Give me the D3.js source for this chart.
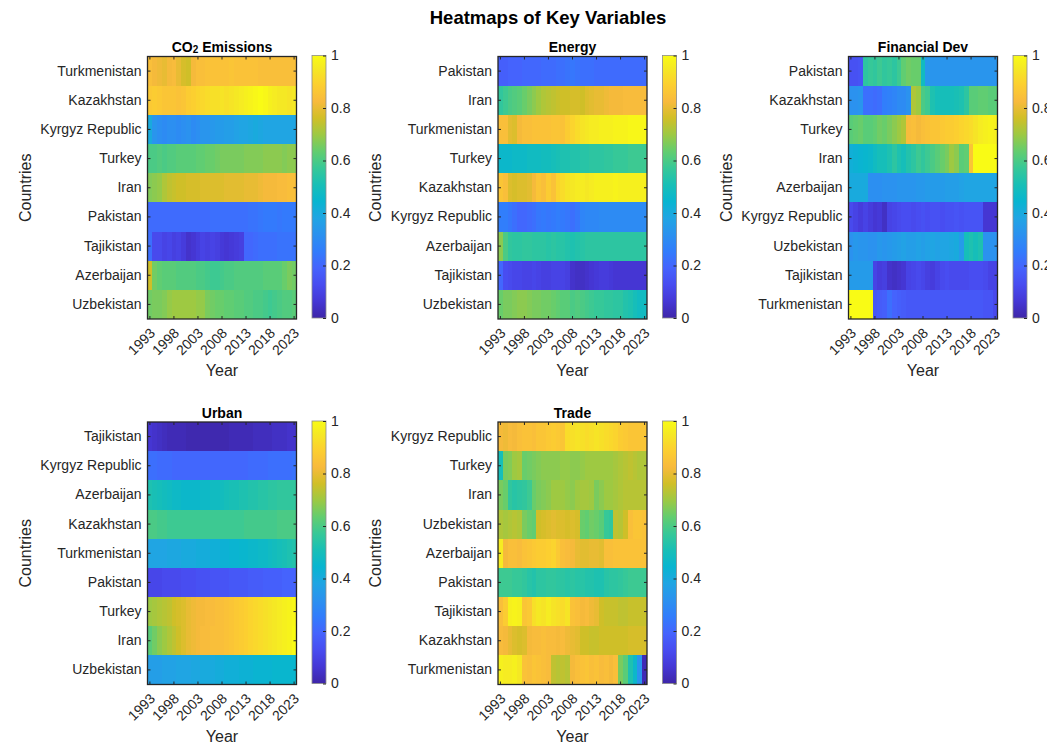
<!DOCTYPE html>
<html>
<head>
<meta charset="utf-8">
<script src="https://cdn.jsdelivr.net/npm/d3@7"></script>
<style>
  body { margin: 0; background: #fff; }
  svg { display: block; }
  text { font-family: "Liberation Sans", Arial, Helvetica, sans-serif; }
</style>
</head>
<body>
<svg id="fig" width="1047" height="750"></svg>
<script>
// ---- Data (normalised 0..1) ----
const years = [1993,1994,1995,1996,1997,1998,1999,2000,2001,2002,2003,2004,2005,2006,2007,2008,
               2009,2010,2011,2012,2013,2014,2015,2016,2017,2018,2019,2020,2021,2022,2023];
const yearTicks = [1993, 1998, 2003, 2008, 2013, 2018, 2023];
const colorbarTicks = [0, 0.2, 0.4, 0.6, 0.8, 1];

// parula colour map stops
const parulaStops = [0, 4/63, 8/63, 12/63, 16/63, 20/63, 24/63, 28/63, 32/63, 36/63, 40/63, 44/63, 48/63, 52/63, 56/63, 60/63, 1];
const parulaColors = ["#3e26a8", "#4537d5", "#484cf0", "#4563fd", "#327cfc", "#2b91ef", "#20a5e3", "#08b5d0",
                      "#18bfb6", "#37c897", "#63cd6f", "#9dc943", "#d1bf27", "#f8ba3d", "#fccf30", "#f5e924", "#f9fb15"];

// CO2 emissions
const co2Countries = ["Turkmenistan", "Kazakhstan", "Kyrgyz Republic", "Turkey", "Iran", "Pakistan", "Tajikistan", "Azerbaijan", "Uzbekistan"];
const co2Values = [
  [0.84,0.82,0.81,0.80,0.82,0.83,0.80,0.77,0.76,0.82,0.84,0.84,0.85,0.85,0.85,0.85,0.85,0.86,0.85,0.85,0.85,0.85,0.85,0.84,0.84,0.84,0.84,0.84,0.84,0.84,0.84],
  [0.87,0.88,0.87,0.86,0.86,0.86,0.85,0.86,0.88,0.89,0.90,0.91,0.92,0.93,0.93,0.94,0.93,0.94,0.95,0.96,0.97,0.98,0.99,1.00,0.99,0.97,0.96,0.95,0.95,0.94,0.95],
  [0.40,0.33,0.31,0.30,0.31,0.31,0.30,0.31,0.32,0.30,0.31,0.33,0.33,0.34,0.35,0.35,0.36,0.36,0.37,0.38,0.38,0.39,0.40,0.39,0.38,0.38,0.38,0.38,0.38,0.38,0.38],
  [0.60,0.60,0.61,0.60,0.61,0.61,0.62,0.62,0.62,0.62,0.63,0.63,0.64,0.64,0.65,0.66,0.66,0.66,0.66,0.66,0.67,0.67,0.67,0.67,0.68,0.68,0.68,0.68,0.67,0.68,0.68],
  [0.67,0.68,0.69,0.72,0.74,0.75,0.76,0.76,0.77,0.77,0.77,0.78,0.78,0.78,0.78,0.78,0.79,0.79,0.79,0.79,0.80,0.80,0.80,0.81,0.82,0.82,0.82,0.83,0.83,0.84,0.84],
  [0.21,0.21,0.21,0.21,0.21,0.21,0.21,0.21,0.21,0.21,0.21,0.21,0.21,0.22,0.22,0.22,0.22,0.22,0.22,0.22,0.22,0.23,0.23,0.24,0.25,0.25,0.25,0.24,0.25,0.25,0.25],
  [0.22,0.12,0.12,0.10,0.11,0.09,0.10,0.08,0.05,0.06,0.08,0.10,0.09,0.10,0.09,0.07,0.06,0.07,0.08,0.09,0.20,0.20,0.21,0.22,0.22,0.22,0.22,0.23,0.23,0.23,0.23],
  [0.76,0.65,0.63,0.62,0.62,0.62,0.61,0.61,0.61,0.61,0.60,0.60,0.59,0.58,0.58,0.59,0.60,0.60,0.61,0.61,0.61,0.61,0.61,0.61,0.62,0.62,0.62,0.62,0.64,0.66,0.65],
  [0.65,0.66,0.66,0.67,0.69,0.70,0.70,0.70,0.70,0.70,0.69,0.69,0.66,0.65,0.64,0.64,0.63,0.63,0.62,0.62,0.61,0.61,0.60,0.60,0.59,0.58,0.59,0.60,0.61,0.61,0.62]
];

// Energy
const energyCountries = ["Pakistan", "Iran", "Turkmenistan", "Turkey", "Kazakhstan", "Kyrgyz Republic", "Azerbaijan", "Tajikistan", "Uzbekistan"];
const energyValues = [
  [0.18,0.18,0.19,0.19,0.19,0.20,0.20,0.20,0.20,0.21,0.21,0.21,0.22,0.22,0.23,0.24,0.23,0.22,0.22,0.22,0.21,0.21,0.21,0.21,0.21,0.21,0.21,0.21,0.21,0.21,0.21],
  [0.56,0.58,0.60,0.61,0.62,0.64,0.66,0.68,0.70,0.72,0.73,0.74,0.75,0.76,0.76,0.77,0.77,0.76,0.78,0.79,0.80,0.80,0.81,0.82,0.82,0.82,0.83,0.83,0.83,0.83,0.83],
  [0.84,0.84,0.79,0.78,0.82,0.84,0.84,0.85,0.85,0.85,0.85,0.86,0.86,0.85,0.88,0.90,0.92,0.94,0.95,0.96,0.96,0.97,0.97,0.97,0.98,0.98,0.98,0.99,0.99,0.99,0.99],
  [0.46,0.46,0.46,0.47,0.47,0.47,0.48,0.48,0.48,0.49,0.49,0.50,0.51,0.52,0.52,0.53,0.53,0.54,0.54,0.55,0.55,0.55,0.56,0.56,0.57,0.57,0.57,0.58,0.58,0.58,0.58],
  [0.86,0.84,0.78,0.77,0.78,0.78,0.79,0.82,0.86,0.84,0.88,0.85,0.90,0.92,0.94,0.95,0.96,0.96,0.95,0.96,0.97,0.97,0.97,0.97,0.98,0.97,0.97,0.97,0.97,0.97,0.97],
  [0.26,0.26,0.24,0.22,0.20,0.20,0.21,0.22,0.24,0.25,0.24,0.25,0.26,0.25,0.24,0.22,0.24,0.28,0.29,0.29,0.29,0.30,0.30,0.30,0.30,0.30,0.30,0.30,0.30,0.30,0.30],
  [0.68,0.60,0.56,0.55,0.55,0.56,0.56,0.55,0.55,0.55,0.54,0.55,0.54,0.54,0.53,0.52,0.53,0.54,0.55,0.55,0.55,0.55,0.55,0.55,0.55,0.55,0.55,0.55,0.55,0.55,0.55],
  [0.20,0.13,0.12,0.11,0.11,0.10,0.10,0.11,0.10,0.09,0.09,0.10,0.10,0.10,0.09,0.05,0.04,0.04,0.05,0.06,0.07,0.08,0.08,0.07,0.06,0.06,0.06,0.06,0.06,0.06,0.06],
  [0.64,0.66,0.66,0.67,0.68,0.68,0.67,0.66,0.66,0.65,0.65,0.64,0.63,0.62,0.62,0.60,0.61,0.60,0.59,0.58,0.57,0.57,0.56,0.56,0.55,0.55,0.53,0.52,0.50,0.48,0.48]
];

// Financial development
const financeCountries = ["Pakistan", "Kazakhstan", "Turkey", "Iran", "Azerbaijan", "Kyrgyz Republic", "Uzbekistan", "Tajikistan", "Turkmenistan"];
const financeValues = [
  [0.14,0.14,0.15,0.55,0.57,0.56,0.58,0.56,0.57,0.55,0.58,0.63,0.65,0.64,0.64,0.48,0.34,0.33,0.33,0.33,0.33,0.33,0.33,0.33,0.33,0.33,0.33,0.33,0.33,0.33,0.33],
  [0.32,0.32,0.33,0.22,0.22,0.21,0.22,0.26,0.27,0.28,0.30,0.30,0.32,0.72,0.70,0.60,0.58,0.52,0.50,0.50,0.50,0.50,0.51,0.52,0.55,0.62,0.62,0.63,0.63,0.62,0.62],
  [0.62,0.63,0.64,0.62,0.62,0.63,0.65,0.64,0.66,0.68,0.70,0.72,0.83,0.84,0.82,0.84,0.85,0.86,0.86,0.87,0.88,0.88,0.89,0.90,0.91,0.92,0.94,0.96,0.97,0.98,0.97],
  [0.42,0.43,0.44,0.45,0.46,0.48,0.50,0.50,0.52,0.55,0.52,0.50,0.53,0.55,0.58,0.56,0.58,0.60,0.62,0.64,0.66,0.70,0.68,0.62,0.63,0.86,1.00,1.00,1.00,1.00,1.00],
  [0.40,0.40,0.40,0.40,0.31,0.31,0.31,0.32,0.32,0.32,0.33,0.33,0.33,0.33,0.34,0.34,0.35,0.35,0.35,0.35,0.36,0.36,0.36,0.37,0.38,0.38,0.38,0.38,0.38,0.38,0.38],
  [0.12,0.10,0.08,0.10,0.08,0.06,0.07,0.04,0.10,0.11,0.12,0.13,0.13,0.12,0.13,0.14,0.13,0.14,0.14,0.13,0.14,0.14,0.15,0.14,0.15,0.15,0.15,0.15,0.06,0.06,0.06],
  [0.32,0.34,0.33,0.33,0.32,0.32,0.34,0.33,0.34,0.35,0.36,0.37,0.36,0.36,0.37,0.36,0.37,0.38,0.37,0.38,0.38,0.39,0.40,0.35,0.50,0.52,0.50,0.52,0.32,0.32,0.32],
  [0.35,0.35,0.35,0.35,0.35,0.10,0.08,0.09,0.05,0.04,0.05,0.06,0.10,0.11,0.12,0.11,0.09,0.08,0.10,0.12,0.13,0.12,0.12,0.12,0.12,0.13,0.13,0.13,0.12,0.10,0.10],
  [1.00,1.00,1.00,1.00,1.00,0.16,0.17,0.18,0.22,0.19,0.18,0.17,0.16,0.16,0.16,0.16,0.16,0.16,0.16,0.16,0.16,0.16,0.16,0.16,0.16,0.16,0.16,0.16,0.15,0.15,0.12]
];

// Urbanisation
const urbanCountries = ["Tajikistan", "Kyrgyz Republic", "Azerbaijan", "Kazakhstan", "Turkmenistan", "Pakistan", "Turkey", "Iran", "Uzbekistan"];
const urbanValues = [
  [0.06,0.05,0.04,0.03,0.02,0.02,0.02,0.02,0.01,0.01,0.01,0.01,0.01,0.01,0.01,0.01,0.01,0.02,0.02,0.02,0.02,0.02,0.03,0.03,0.03,0.03,0.04,0.04,0.04,0.05,0.05],
  [0.22,0.22,0.21,0.21,0.21,0.20,0.20,0.20,0.20,0.20,0.20,0.20,0.20,0.20,0.20,0.20,0.20,0.20,0.20,0.20,0.20,0.21,0.21,0.21,0.21,0.22,0.22,0.22,0.22,0.22,0.23],
  [0.52,0.51,0.50,0.49,0.48,0.47,0.47,0.46,0.46,0.46,0.46,0.47,0.47,0.48,0.48,0.49,0.50,0.51,0.51,0.52,0.52,0.53,0.53,0.54,0.54,0.55,0.55,0.56,0.56,0.56,0.56],
  [0.60,0.60,0.59,0.59,0.58,0.58,0.58,0.58,0.58,0.58,0.58,0.58,0.58,0.58,0.58,0.58,0.58,0.58,0.58,0.58,0.59,0.59,0.59,0.59,0.59,0.59,0.59,0.60,0.60,0.60,0.60],
  [0.38,0.38,0.38,0.38,0.39,0.39,0.39,0.40,0.40,0.40,0.41,0.41,0.41,0.42,0.42,0.43,0.43,0.44,0.44,0.45,0.45,0.46,0.46,0.47,0.47,0.48,0.49,0.50,0.51,0.52,0.53],
  [0.11,0.11,0.11,0.12,0.12,0.12,0.12,0.13,0.13,0.13,0.14,0.14,0.14,0.15,0.15,0.15,0.15,0.16,0.16,0.16,0.16,0.17,0.17,0.17,0.18,0.18,0.18,0.18,0.19,0.19,0.19],
  [0.70,0.71,0.72,0.73,0.74,0.76,0.77,0.78,0.80,0.81,0.82,0.82,0.83,0.83,0.84,0.84,0.85,0.86,0.87,0.88,0.89,0.90,0.91,0.92,0.93,0.94,0.95,0.96,0.97,0.98,0.99],
  [0.62,0.65,0.68,0.70,0.72,0.74,0.76,0.78,0.80,0.81,0.82,0.83,0.83,0.84,0.84,0.84,0.85,0.86,0.87,0.88,0.89,0.90,0.91,0.92,0.93,0.94,0.95,0.96,0.97,0.98,1.00],
  [0.36,0.36,0.36,0.37,0.37,0.37,0.38,0.38,0.38,0.39,0.39,0.40,0.40,0.40,0.41,0.41,0.42,0.42,0.42,0.43,0.43,0.43,0.44,0.44,0.44,0.44,0.45,0.45,0.45,0.45,0.45]
];

// Trade openness
const tradeCountries = ["Kyrgyz Republic", "Turkey", "Iran", "Uzbekistan", "Azerbaijan", "Pakistan", "Tajikistan", "Kazakhstan", "Turkmenistan"];
const tradeValues = [
  [0.82,0.81,0.83,0.82,0.84,0.85,0.85,0.84,0.86,0.86,0.87,0.88,0.87,0.86,0.92,0.93,0.94,0.93,0.92,0.93,0.94,0.93,0.92,0.91,0.90,0.88,0.87,0.86,0.86,0.86,0.86],
  [0.50,0.66,0.67,0.70,0.71,0.64,0.65,0.66,0.67,0.68,0.68,0.68,0.68,0.69,0.69,0.68,0.68,0.69,0.70,0.70,0.70,0.70,0.70,0.70,0.71,0.72,0.73,0.74,0.73,0.72,0.72],
  [0.66,0.64,0.56,0.54,0.55,0.56,0.58,0.64,0.66,0.67,0.68,0.70,0.70,0.70,0.69,0.68,0.70,0.71,0.71,0.70,0.66,0.68,0.70,0.70,0.71,0.72,0.73,0.73,0.73,0.73,0.73],
  [0.72,0.71,0.72,0.73,0.72,0.66,0.64,0.63,0.76,0.77,0.78,0.79,0.78,0.78,0.77,0.78,0.77,0.64,0.63,0.65,0.64,0.62,0.57,0.56,0.74,0.73,0.76,0.84,0.86,0.86,0.85],
  [0.96,0.82,0.84,0.84,0.83,0.85,0.86,0.87,0.88,0.88,0.89,0.90,0.87,0.84,0.83,0.82,0.80,0.79,0.79,0.80,0.80,0.79,0.84,0.84,0.85,0.85,0.85,0.85,0.85,0.85,0.85],
  [0.58,0.58,0.58,0.57,0.57,0.56,0.54,0.53,0.55,0.55,0.56,0.56,0.55,0.55,0.54,0.55,0.54,0.54,0.53,0.53,0.52,0.52,0.54,0.55,0.55,0.56,0.57,0.58,0.58,0.58,0.58],
  [0.84,0.88,0.97,0.98,0.97,0.86,0.87,0.93,0.95,0.94,0.96,0.94,0.93,0.92,0.94,0.85,0.84,0.82,0.83,0.81,0.80,0.76,0.75,0.75,0.75,0.74,0.74,0.75,0.75,0.75,0.75],
  [0.83,0.82,0.80,0.78,0.77,0.78,0.82,0.83,0.83,0.84,0.83,0.83,0.82,0.83,0.81,0.80,0.79,0.76,0.76,0.75,0.75,0.76,0.76,0.76,0.76,0.76,0.76,0.77,0.77,0.77,0.77],
  [0.97,0.96,0.96,0.97,0.95,0.85,0.84,0.86,0.85,0.84,0.83,0.74,0.73,0.74,0.73,0.82,0.84,0.85,0.86,0.84,0.85,0.83,0.84,0.82,0.84,0.66,0.62,0.52,0.46,0.33,0.02]
];

// ---- Layout ----
const svg = d3.select("#fig");
const plotW = 149, plotH = 262.5;
const panels = [
  { title: "CO2", countries: co2Countries,     values: co2Values,     left: 147.5, top: 56.5 },
  { title: "Energy",        countries: energyCountries,  values: energyValues,  left: 498,   top: 56.5 },
  { title: "Financial Dev", countries: financeCountries, values: financeValues, left: 848.5, top: 56.5 },
  { title: "Urban",         countries: urbanCountries,   values: urbanValues,   left: 147.5, top: 422 },
  { title: "Trade",         countries: tradeCountries,   values: tradeValues,   left: 498,   top: 422 }
];

const color = d3.scaleLinear().domain(parulaStops).range(parulaColors).interpolate(d3.interpolateRgb).clamp(true);
const ink = "#262626";

// figure title
svg.append("text")
  .attr("x", 548).attr("y", 24)
  .attr("text-anchor", "middle")
  .style("font-size", "18.5px").style("font-weight", "bold").style("fill", "#000")
  .text("Heatmaps of Key Variables");

// shared colour-bar gradient
const grad = svg.append("defs").append("linearGradient")
  .attr("id", "parula").attr("x1", 0).attr("y1", 1).attr("x2", 0).attr("y2", 0);
grad.selectAll("stop").data(parulaStops).join("stop")
  .attr("offset", d => d)
  .attr("stop-color", d => color(d));

panels.forEach(p => {
  const g = svg.append("g");
  const x = d3.scaleBand().domain(years).range([p.left, p.left + plotW]);
  const y = d3.scaleBand().domain(p.countries).range([p.top, p.top + plotH]);

  // cells
  const cells = [];
  p.countries.forEach((c, i) => years.forEach((yr, j) => cells.push({ c, yr, v: p.values[i][j] })));
  g.append("g").selectAll("rect").data(cells).join("rect")
    .attr("x", d => x(d.yr)).attr("y", d => y(d.c))
    .attr("width", x.bandwidth() + 0.4).attr("height", y.bandwidth() + 0.4)
    .attr("fill", d => color(d.v))
    .attr("shape-rendering", "crispEdges");

  // axes (ticks point inwards)
  const left = g.append("g").attr("transform", `translate(${p.left},0)`)
    .call(d3.axisLeft(y).tickSize(-3).tickPadding(6));
  left.selectAll("text").style("font-size", "14px").style("fill", ink);

  g.append("g").attr("transform", `translate(${p.left + plotW},0)`)
    .call(d3.axisRight(y).tickSize(-3).tickFormat(""));

  const bottom = g.append("g").attr("transform", `translate(0,${p.top + plotH})`)
    .call(d3.axisBottom(x).tickValues(yearTicks).tickSize(-3).tickFormat(d3.format("d")));
  bottom.selectAll("text")
    .attr("x", 0).attr("y", 0).attr("dy", 0)
    .attr("transform", "translate(6,15) rotate(-45)")
    .style("text-anchor", "end").style("font-size", "14px").style("fill", ink);

  g.append("g").attr("transform", `translate(0,${p.top})`)
    .call(d3.axisTop(x).tickValues(yearTicks).tickSize(-3).tickFormat(""));

  g.selectAll(".domain").remove();
  g.selectAll(".tick line").attr("stroke", ink).attr("stroke-width", 1);

  // axes box
  g.append("rect")
    .attr("x", p.left).attr("y", p.top).attr("width", plotW).attr("height", plotH)
    .attr("fill", "none").attr("stroke", ink).attr("stroke-width", 1.3);

  // panel title
  const t = g.append("text")
    .attr("x", p.left + plotW / 2).attr("y", p.top - 4.5)
    .attr("text-anchor", "middle")
    .style("font-size", "14px").style("font-weight", "bold").style("fill", "#000");
  if (p.title === "CO2") {
    t.append("tspan").text("CO");
    t.append("tspan").style("font-size", "10px").attr("dy", 1).text("2");
    t.append("tspan").attr("dy", -1).text(" Emissions");
  } else {
    t.text(p.title);
  }

  // axis labels
  g.append("text")
    .attr("transform", `translate(${p.left - 117},${p.top + plotH / 2}) rotate(-90)`)
    .attr("text-anchor", "middle")
    .style("font-size", "16px").style("fill", ink)
    .text("Countries");
  g.append("text")
    .attr("x", p.left + plotW / 2).attr("y", p.top + plotH + 57)
    .attr("text-anchor", "middle")
    .style("font-size", "16px").style("fill", ink)
    .text("Year");

  // colour bar
  const cbX = p.left + 164.5, cbW = 14;
  const cbScale = d3.scaleLinear().domain([0, 1]).range([p.top + plotH - 1, p.top - 1]);
  g.append("rect")
    .attr("x", cbX).attr("y", p.top - 1).attr("width", cbW).attr("height", plotH)
    .attr("fill", "url(#parula)")
    .attr("stroke", "#8c8c8c").attr("stroke-width", 0.8);
  const cbAxis = g.append("g").attr("transform", `translate(${cbX + cbW},0)`)
    .call(d3.axisRight(cbScale).tickValues(colorbarTicks).tickSize(-3).tickPadding(5).tickFormat(d => String(d)));
  cbAxis.select(".domain").remove();
  cbAxis.selectAll(".tick line").attr("stroke", ink);
  cbAxis.selectAll("text").style("font-size", "14px").style("fill", ink);
});
</script>
</body>
</html>
